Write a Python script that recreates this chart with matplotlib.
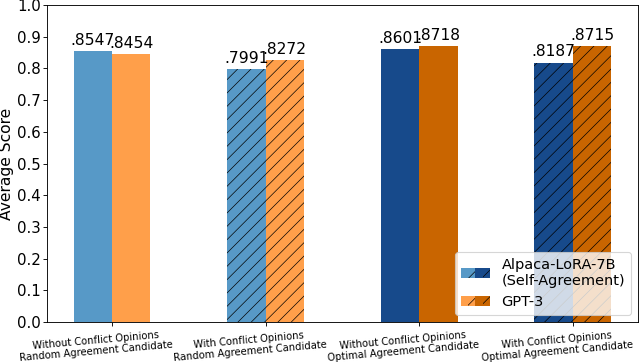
import numpy as np
import matplotlib
matplotlib.use("Agg")
import matplotlib.pyplot as plt
import matplotlib.transforms as mtransforms
from matplotlib.patches import Patch
from matplotlib.legend_handler import HandlerTuple

categories = ["Without Conflict Opinions\nRandom Agreement Candidate",
              "With Conflict Opinions\nRandom Agreement Candidate",
              "Without Conflict Opinions\nOptimal Agreement Candidate",
              "With Conflict Opinions\nOptimal Agreement Candidate"]
alpaca = [0.8547, 0.7991, 0.8601, 0.8187]
gpt3 = [0.8454, 0.8272, 0.8718, 0.8715]
alpaca_colors = ["#5799c7", "#5799c7", "#174a8b", "#174a8b"]
gpt3_colors = ["#ff9f4a", "#ff9f4a", "#c96500", "#c96500"]
hatches = ["", "//", "", "//"]

plt.rcParams["hatch.linewidth"] = 0.6

fig = plt.figure(figsize=(8, 4.525), dpi=80)
ax = fig.add_axes([0.073, 0.11, 0.924, 0.876])

x = np.arange(len(categories))
w = 0.25
for i in range(len(categories)):
    ax.bar(x[i] - w / 2, alpaca[i], w, color=alpaca_colors[i], hatch=hatches[i], edgecolor="black", linewidth=0)
    ax.bar(x[i] + w / 2, gpt3[i], w, color=gpt3_colors[i], hatch=hatches[i], edgecolor="black", linewidth=0)
    ax.text(x[i] - w / 2, alpaca[i] + 0.01, ("%.4f" % alpaca[i])[1:], ha="center", va="bottom", fontsize=14)
    ax.text(x[i] + w / 2, gpt3[i] + 0.01, ("%.4f" % gpt3[i])[1:], ha="center", va="bottom", fontsize=14)

ax.set_ylim(0, 1.0)
ax.set_yticks(np.arange(0, 1.01, 0.1))
ax.tick_params(axis="y", labelsize=13.5, pad=1.5)
ax.tick_params(axis="x", pad=2.5)
ax.set_ylabel("Average Score", fontsize=14)
ax.yaxis.set_label_coords(-0.056, 0.5)
ax.set_xticks(x)
ax.set_xticklabels(categories, rotation=5, fontsize=9, ha="center", linespacing=1.1)

# labels sit a little left of their ticks in the original
shift = mtransforms.ScaledTranslation(-0.2, 0, fig.dpi_scale_trans)
for lab in ax.get_xticklabels():
    lab.set_transform(lab.get_transform() + shift)

def handle(c1, c2):
    return (Patch(facecolor=c1, edgecolor="black", linewidth=0),
            Patch(facecolor=c1, edgecolor="black", hatch="//", linewidth=0),
            Patch(facecolor=c2, edgecolor="black", linewidth=0),
            Patch(facecolor=c2, edgecolor="black", hatch="//", linewidth=0))

ax.legend([handle("#5799c7", "#174a8b"), handle("#ff9f4a", "#c96500")],
          ["Alpaca-LoRA-7B\n(Self-Agreement)", "GPT-3"],
          handler_map={tuple: HandlerTuple(ndivide=None, pad=0)},
          loc="lower right", fontsize=13)

fig.savefig("out.png")
